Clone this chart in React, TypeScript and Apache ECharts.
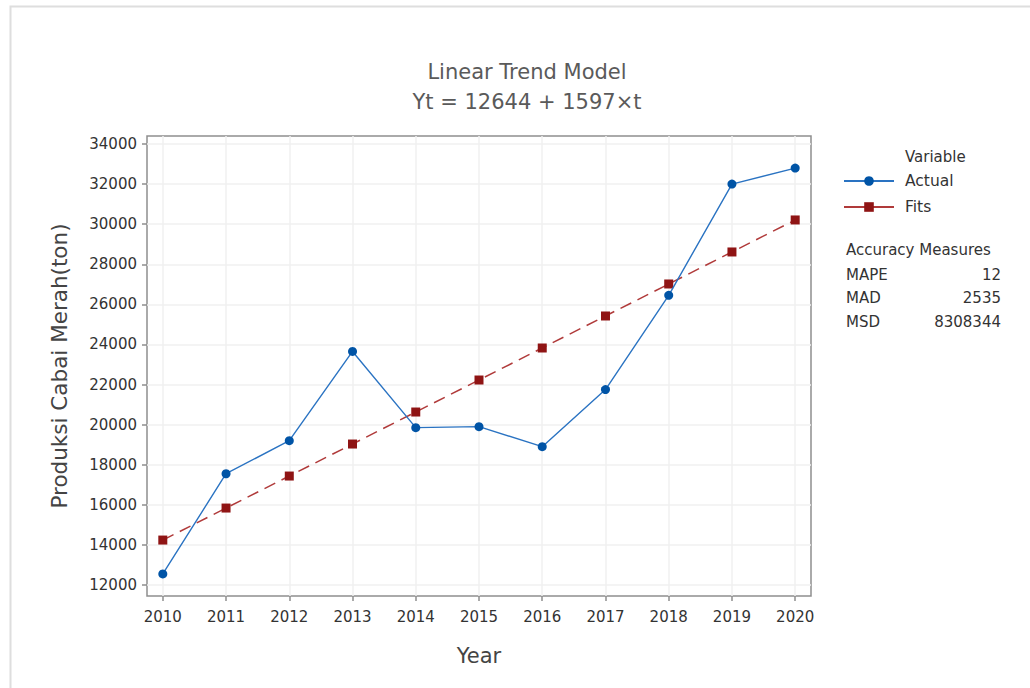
import React, { useEffect, useRef } from "react";
import * as echarts from "echarts";

const years = [2010, 2011, 2012, 2013, 2014, 2015, 2016, 2017, 2018, 2019, 2020];
const actual = [12550, 17550, 19200, 23650, 19850, 19900, 18900, 21750, 26450, 32000, 32800];
const fits = [14241, 15838, 17435, 19032, 20629, 22226, 23823, 25420, 27017, 28614, 30211];
const yTicks = [12000, 14000, 16000, 18000, 20000, 22000, 24000, 26000, 28000, 30000, 32000, 34000];
const accuracyLabels = ["MAPE", "MAD", "MSD"];
const accuracyValues = ["12", "2535", "8308344"];

const FONT = "'DejaVu Sans', 'Noto Sans', sans-serif";
const TXT = "#333333";

export default function App() {
  const ref = useRef<HTMLDivElement>(null);
  useEffect(() => {
    if (!ref.current) return;
    const chart = echarts.init(ref.current, undefined, { renderer: "svg" });
    const accGraphics: any[] = [];
    accuracyLabels.forEach((l, i) => {
      accGraphics.push({
        type: "text", left: 846, top: 267 + i * 23.5,
        style: { text: l, fill: TXT, font: `15px ${FONT}` },
      });
      accGraphics.push({
        type: "text", right: 29, top: 267 + i * 23.5,
        style: { text: accuracyValues[i], fill: TXT, font: `15px ${FONT}`, align: "right" },
      });
    });
    chart.setOption({
      animation: false,
      backgroundColor: "#ffffff",
      textStyle: { fontFamily: FONT },
      title: {
        text: "Linear Trend Model\nYt = 12644 + 1597×t",
        left: 522, top: 52, textAlign: "center",
        textStyle: { fontSize: 21, fontWeight: "normal", color: "#5a5a5a", lineHeight: 30, fontFamily: FONT },
      },
      grid: {
        left: 147, top: 136, width: 664, height: 460,
        show: true, borderColor: "#8e8e8e", borderWidth: 1.5, backgroundColor: "#ffffff",
      },
      legend: {
        orient: "vertical", left: 843, top: 173, padding: 0, itemWidth: 50, itemHeight: 12, itemGap: 10,
        textStyle: { fontSize: 15.5, color: TXT, fontFamily: FONT, padding: [0, 0, 0, 6] },
        data: [
          { name: "Actual", lineStyle: { type: "solid" } },
          { name: "Fits", lineStyle: { type: "solid" } },
        ],
      },
      xAxis: {
        type: "value", min: 2009.75, max: 2020.25,
        name: "Year", nameLocation: "middle", nameGap: 49,
        nameTextStyle: { fontSize: 21, color: "#444", fontFamily: FONT },
        axisLine: { show: false },
        axisTick: { show: true, length: 5, lineStyle: { color: "#8e8e8e", width: 1.5 }, customValues: years },
        axisLabel: { color: TXT, fontSize: 15, margin: 13, customValues: years, formatter: (v: number) => String(v) },
        splitLine: { show: true, lineStyle: { color: "#f1f1f1", width: 1.5 } },
      },
      yAxis: {
        type: "value", min: 11450, max: 34400,
        name: "Produksi Cabai Merah(ton)", nameLocation: "middle", nameGap: 77,
        nameTextStyle: { fontSize: 21.5, color: "#444", fontFamily: FONT },
        axisLine: { show: false },
        axisTick: { show: true, length: 5, lineStyle: { color: "#8e8e8e", width: 1.5 }, customValues: yTicks },
        axisLabel: { color: TXT, fontSize: 15, margin: 10, customValues: yTicks, formatter: (v: number) => String(v) },
        splitLine: { show: true, lineStyle: { color: "#f1f1f1", width: 1.5 } },
      },
      series: [
        {
          name: "Actual", type: "line",
          data: years.map((y, i) => [y, actual[i]]),
          symbol: "circle", symbolSize: 9,
          itemStyle: { color: "#0054a6" },
          lineStyle: { color: "#2a73c2", width: 1.4 },
          z: 3,
        },
        {
          name: "Fits", type: "line",
          data: years.map((y, i) => [y, fits[i]]),
          symbol: "rect", symbolSize: 9,
          itemStyle: { color: "#8f1414" },
          lineStyle: { color: "#b03a3a", width: 1.5, type: [12, 7] },
          z: 2,
        },
      ],
      graphic: [
        {
          type: "rect", left: 8, top: 4, z: -10, silent: true,
          shape: { x: 0, y: 0, width: 1040, height: 700 },
          style: { fill: "none", stroke: "#dedede", lineWidth: 2 },
        },
        { type: "text", left: 905, top: 149, style: { text: "Variable", fill: TXT, font: `15px ${FONT}` } },
        { type: "text", left: 846, top: 242, style: { text: "Accuracy Measures", fill: TXT, font: `15px ${FONT}` } },
        ...accGraphics,
      ],
    });
    return () => chart.dispose();
  }, []);
  return (
    <div
      ref={ref}
      style={{ position: "absolute", left: 0, top: 0, width: 1030, height: 688, background: "#fff" }}
    />
  );
}
